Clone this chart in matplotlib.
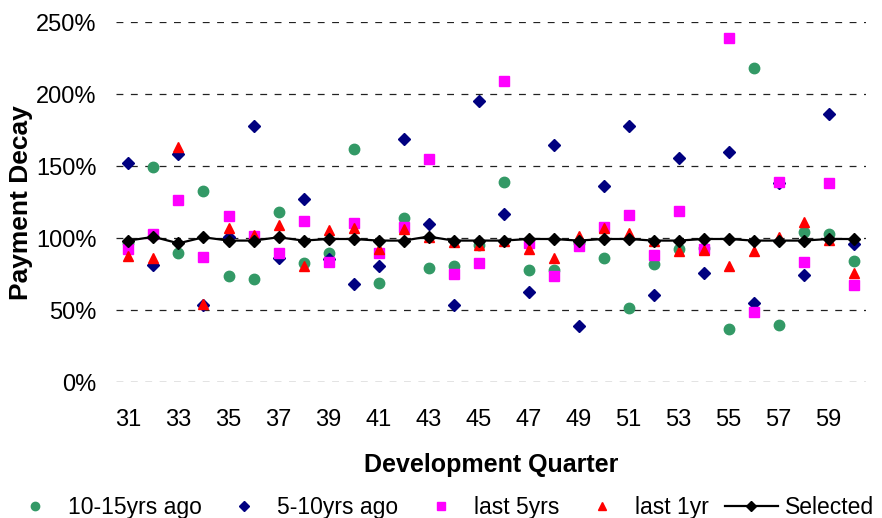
import matplotlib
matplotlib.use("Agg")
import matplotlib.pyplot as plt
from matplotlib.ticker import FuncFormatter, MultipleLocator

plt.rcParams['font.family'] = ['Liberation Sans', 'DejaVu Sans']

quarters = list(range(31, 61))

# Payment decay ratios (%) by development quarter
yrs_10_15 = [97, 149.8, 89.6, 132.9, 73.8, 71.5, 118.5, 83.1, 90.0, 161.8,
             68.8, 113.9, 79.4, 81.0, 95.1, 139.4, 78.0, 78.0, 97.0, 86.1,
             51.9, 81.9, 92.8, 93.0, 37.3, 218.0, 39.8, 104.2, 103.0, 84.5]
yrs_5_10 = [152.0, 81.5, 158.3, 53.7, 100.7, 178.0, 86.1, 127.0, 85.4, 68.3,
            81.0, 169.0, 110.0, 53.7, 195.0, 116.7, 62.7, 164.8, 39.4, 136.3,
            178.0, 60.4, 156.0, 76.2, 160.0, 54.9, 138.7, 74.5, 186.0, 95.8]
last_5yrs = [92.6, 103.0, 126.6, 87.0, 115.7, 101.9, 89.6, 112.0, 83.3, 110.9,
             89.6, 108.0, 155.0, 75.2, 83.1, 209.0, 97.0, 73.8, 94.9, 108.1,
             116.0, 88.4, 118.8, 92.4, 238.9, 49.1, 139.4, 83.3, 138.2, 67.6]
last_1yr = [87.7, 86.0, 163.7, 54.4, 107.0, 102.3, 109.3, 81.0, 105.8, 107.4,
            92.4, 106.3, 100.7, 97.2, 95.4, 98.0, 92.6, 86.6, 101.6, 107.4,
            103.5, 98.4, 91.4, 92.1, 81.0, 91.4, 101.2, 111.1, 99.0, 76.2]
selected = [98.4, 101.0, 96.5, 100.7, 98.4, 98.4, 100.7, 98.4, 99.5, 99.5,
            98.4, 98.4, 101.2, 98.4, 98.4, 98.4, 99.5, 99.5, 98.4, 99.5,
            99.5, 98.4, 98.4, 99.5, 99.5, 98.4, 98.4, 98.4, 99.5, 99.5]

series_names = ['10-15yrs ago', '5-10yrs ago', 'last 5yrs', 'last 1yr', 'Selected']

fig = plt.figure(figsize=(8.82, 5.18), dpi=100)
ax = fig.add_axes([0.1315, 0.262, 0.8505, 0.695])

def pct(vals):
    return [v / 100 for v in vals]

ax.plot(quarters, pct(yrs_10_15), linestyle='none', marker='o', markersize=7.5,
        color='#339966', label=series_names[0], zorder=3)
ax.plot(quarters, pct(yrs_5_10), linestyle='none', marker='D', markersize=6.5,
        color='#000080', label=series_names[1], zorder=3)
ax.plot(quarters, pct(last_5yrs), linestyle='none', marker='s', markersize=7.5,
        color='#FF00FF', label=series_names[2], zorder=3)
ax.plot(quarters, pct(last_1yr), linestyle='none', marker='^', markersize=7.5,
        color='#FF0000', label=series_names[3], zorder=3)
ax.plot(quarters, pct(selected), linestyle='-', linewidth=1.6, marker='D',
        markersize=6.5, color='black', label=series_names[4], zorder=4)

ax.set_xlim(30.5, 60.5)
ax.set_ylim(0, 2.5)
ax.yaxis.set_major_locator(MultipleLocator(0.5))
ax.yaxis.set_major_formatter(FuncFormatter(lambda v, p: f"{v*100:.0f}%"))
ax.set_xticks(quarters[::2])
ax.grid(axis='y', linestyle=(0, (5.5, 6)), color='#222222', linewidth=0.9)
ax.set_axisbelow(True)
for s in ax.spines.values():
    s.set_visible(False)
ax.tick_params(axis='both', length=0, labelsize=17)
ax.tick_params(axis='x', pad=19.5)
ax.tick_params(axis='y', pad=14)

ax.set_xlabel('Development Quarter', fontsize=18, fontweight='bold', labelpad=15.5)
ax.set_ylabel('Payment Decay', fontsize=19, fontweight='bold', labelpad=2)

handles, labels = ax.get_legend_handles_labels()
leg = fig.legend(handles, labels, loc='lower center', bbox_to_anchor=(0.5, -0.041),
                 ncol=5, frameon=False, fontsize=16.5, markerscale=0.8,
                 handlelength=2.3, columnspacing=0.7, handletextpad=0.3)

fig.savefig('out.png', dpi=100)
